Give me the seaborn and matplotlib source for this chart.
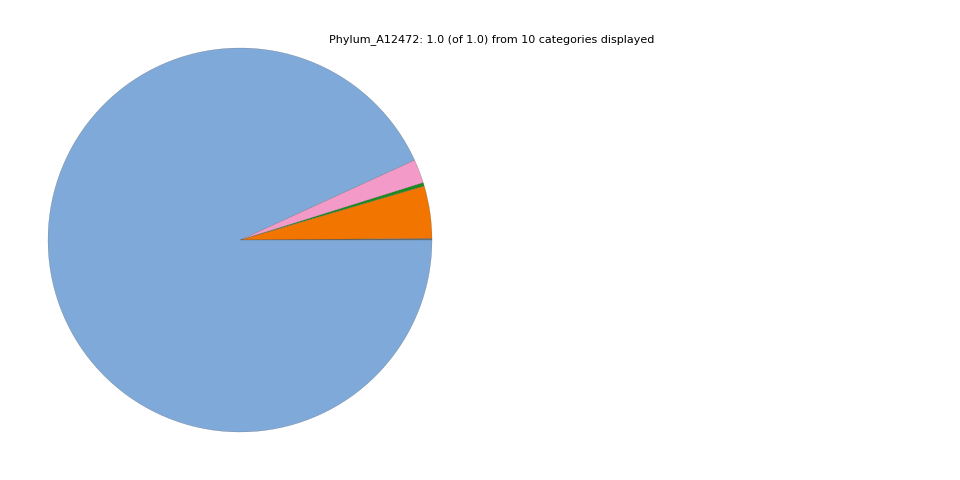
import matplotlib
matplotlib.use("Agg")
import matplotlib.pyplot as plt
import seaborn as sns

# Phylum shares (counterclockwise from 3 o'clock)
categories = ["p_other1", "p_other2", "p_other3", "p_other4", "p_other5",
              "p_other6", "p_orange", "p_green", "p_pink", "p_blue"]
shares = [0.0002, 0.0002, 0.0002, 0.0002, 0.0002, 0.0004,
          0.0440, 0.0030, 0.0200, 0.9316]
colors = ["#8c8c8c", "#b0b0b0", "#6e9e6e", "#c9c9c9", "#a0a0a0", "#7d7d7d",
          "#f27500", "#1f8a1f", "#f49ac8", "#7ea9d8"]
title = "Phylum_A12472: 1.0 (of 1.0) from 10 categories displayed"

sns.set_style("white")
fig = plt.figure(figsize=(9.6, 4.8), dpi=100)
ax = fig.add_axes([0.05, 0.1, 0.4, 0.8])
ax.pie(shares, colors=colors, startangle=0,
       wedgeprops=dict(edgecolor="#555555", linewidth=0.15))
ax.set_xlim(-1, 1)
ax.set_ylim(-1, 1)
ax.set_aspect("equal")
fig.text(0.5125, 0.917, title, ha="center", va="center", fontsize=8,
         color="black")

fig.savefig("out.png", dpi=100)
